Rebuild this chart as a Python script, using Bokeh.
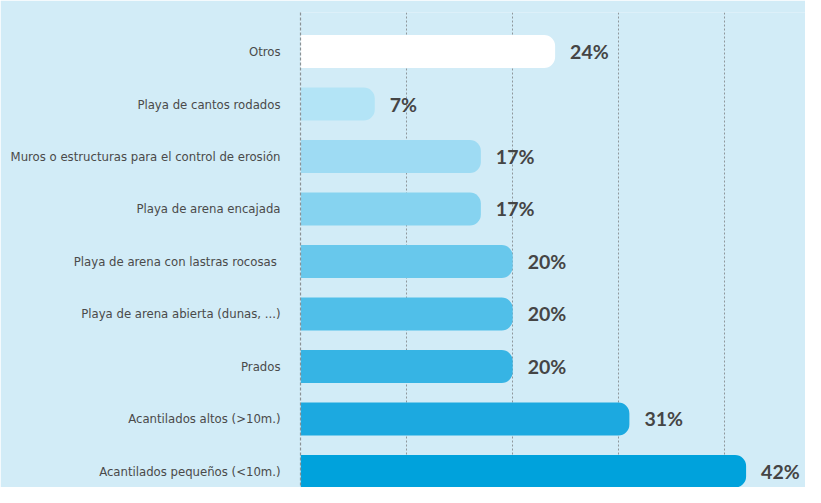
from bokeh.plotting import figure
from bokeh.models import Range1d, FixedTicker, ColumnDataSource
from bokeh.core.properties import value
from bokeh.embed import file_html
from bokeh.resources import INLINE

categories = [
    "Otros",
    "Playa de cantos rodados",
    "Muros o estructuras para el control de erosión",
    "Playa de arena encajada",
    "Playa de  arena con lastras rocosas",
    "Playa de arena abierta (dunas, ...)",
    "Prados",
    "Acantilados altos (>10m.)",
    "Acantilados pequeños (<10m.)",
]
values = [24, 7, 17, 17, 20, 20, 20, 31, 42]
value_labels = ["24%", "7%", "17%", "17%", "20%", "20%", "20%", "31%", "42%"]
bar_colors = ["#ffffff", "#b3e4f6", "#9edbf3", "#86d3f0", "#68c8ec",
              "#50bfe9", "#36b4e4", "#1ca9e0", "#00a2dc"]
grid_ticks = [10, 20, 30, 40]

positions = list(range(len(categories)))
src = ColumnDataSource(dict(y=positions, v=values, lab=value_labels, c=bar_colors))

BG = "#d2ecf7"
p = figure(width=805, height=487, output_backend="svg", toolbar_location=None,
           x_range=Range1d(0, 47.6), y_range=Range1d(8.305, -0.743),
           min_border_left=300, min_border_right=0, min_border_top=12,
           min_border_bottom=0, background_fill_color=BG, border_fill_color=BG,
           outline_line_color=None)

p.hbar(y="y", left=0, right="v", height=0.63, fill_color="c", line_color=None,
       border_radius=(0, 11, 11, 0), source=src)

p.text(x="v", y="y", text="lab", x_offset=15, text_align="left", text_baseline="middle",
       text_font=value("Lato"), text_font_style="bold", text_font_size="19.5px",
       text_color="#454545", source=src)

p.xaxis.visible = False
p.xgrid.ticker = FixedTicker(ticks=grid_ticks)
p.xgrid.grid_line_color = "#8f979b"
p.xgrid.grid_line_dash = "2 2"
p.xgrid.grid_line_width = 1
p.ygrid.grid_line_color = None

ax = p.yaxis[0]
ax.ticker = FixedTicker(ticks=positions)
ax.major_label_overrides = {i: c for i, c in enumerate(categories)}
ax.major_tick_line_color = None
ax.minor_tick_line_color = None
ax.axis_line_color = "#8a9296"
ax.axis_line_dash = "3 2"
ax.axis_line_width = 1.2
ax.major_label_standoff = 14
ax.major_label_text_font = "DejaVu Sans Condensed"
ax.major_label_text_font_size = "13px"
ax.major_label_text_color = "#4a4a4a"

open("out.html", "w").write(file_html(p, INLINE))
